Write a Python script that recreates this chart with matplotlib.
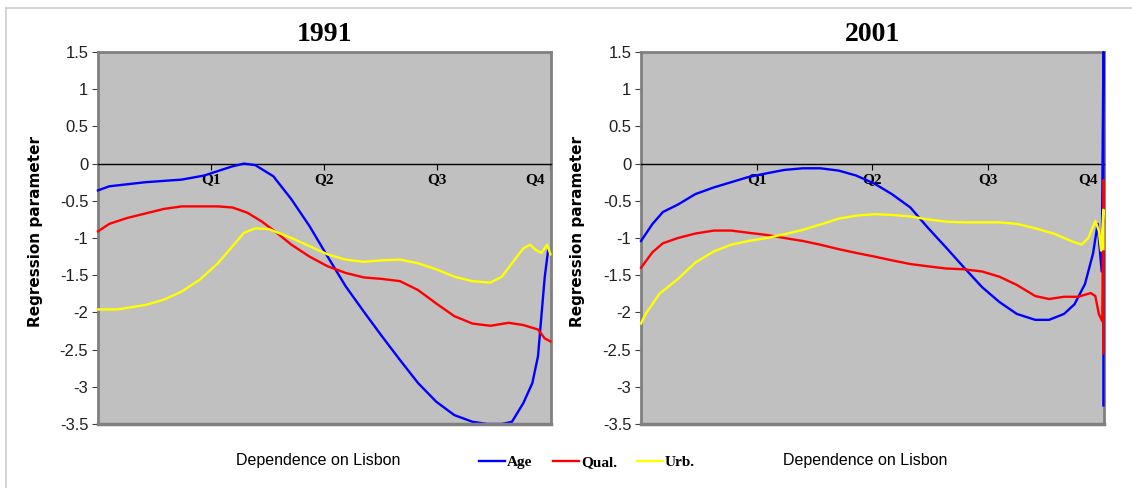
import matplotlib
matplotlib.use("Agg")
import matplotlib.pyplot as plt
import matplotlib.transforms as mtransforms
from matplotlib.lines import Line2D

# quartile positions along the "Dependence on Lisbon" axis (0 .. 4)
q_labels = ["Q1", "Q2", "Q3", "Q4"]
series_names = ["Age", "Qual.", "Urb."]
series_colors = ["#0000FF", "#FF0000", "#FFFF00"]

# ---- 1991 ----
x91_age = [0.0, 0.10, 0.42, 0.74, 0.94, 1.06, 1.19, 1.29, 1.39, 1.55, 1.71, 1.87, 2.03, 2.19,
           2.35, 2.51, 2.67, 2.83, 2.99, 3.15, 3.31, 3.44, 3.57, 3.66, 3.76, 3.84, 3.89, 3.92,
           3.95, 3.98]
y91_age = [-0.36, -0.305, -0.25, -0.215, -0.16, -0.10, -0.036, 0.0, -0.02, -0.17, -0.48, -0.84,
           -1.25, -1.65, -1.99, -2.32, -2.64, -2.95, -3.20, -3.38, -3.47, -3.5, -3.5, -3.47,
           -3.22, -2.95, -2.59, -2.05, -1.52, -1.16]

x91_qual = [0.0, 0.10, 0.26, 0.42, 0.58, 0.74, 0.90, 1.06, 1.19, 1.32, 1.45, 1.58, 1.71, 1.87,
            2.03, 2.19, 2.35, 2.51, 2.67, 2.83, 2.99, 3.15, 3.31, 3.47, 3.63, 3.76, 3.89, 3.95,
            4.0]
y91_qual = [-0.91, -0.81, -0.73, -0.67, -0.61, -0.575, -0.575, -0.575, -0.59, -0.66, -0.78,
            -0.93, -1.09, -1.25, -1.38, -1.47, -1.53, -1.55, -1.58, -1.70, -1.88, -2.05, -2.15,
            -2.18, -2.14, -2.17, -2.23, -2.35, -2.39]

x91_urb = [0.0, 0.17, 0.42, 0.58, 0.74, 0.90, 1.06, 1.19, 1.29, 1.39, 1.51, 1.71, 1.87, 2.03,
           2.19, 2.35, 2.51, 2.67, 2.83, 2.99, 3.15, 3.31, 3.47, 3.57, 3.66, 3.76, 3.82, 3.87,
           3.92, 3.97, 4.0]
y91_urb = [-1.96, -1.96, -1.90, -1.83, -1.72, -1.56, -1.34, -1.11, -0.93, -0.87, -0.88, -1.00,
           -1.11, -1.22, -1.29, -1.32, -1.30, -1.29, -1.34, -1.42, -1.52, -1.58, -1.60, -1.52,
           -1.34, -1.14, -1.09, -1.16, -1.20, -1.09, -1.22]

# ---- 2001 ----
x01_age = [0.0, 0.10, 0.19, 0.32, 0.47, 0.63, 0.78, 0.93, 1.09, 1.24, 1.40, 1.55, 1.71, 1.86,
           2.02, 2.17, 2.33, 2.48, 2.64, 2.79, 2.95, 3.10, 3.25, 3.41, 3.53, 3.66, 3.75, 3.84,
           3.91, 3.95, 3.985, 4.0, 4.0]
y01_age = [-1.04, -0.81, -0.65, -0.55, -0.41, -0.32, -0.25, -0.18, -0.13, -0.085, -0.063,
           -0.063, -0.094, -0.16, -0.27, -0.41, -0.59, -0.86, -1.13, -1.39, -1.66, -1.86, -2.02,
           -2.10, -2.10, -2.02, -1.89, -1.62, -1.21, -0.81, -1.45, 1.5, -3.25]

x01_qual = [0.0, 0.10, 0.19, 0.32, 0.47, 0.63, 0.78, 0.93, 1.09, 1.24, 1.40, 1.55, 1.71, 1.86,
            2.02, 2.17, 2.33, 2.48, 2.64, 2.79, 2.95, 3.10, 3.25, 3.41, 3.53, 3.66, 3.78, 3.89,
            3.93, 3.96, 3.99, 4.0, 4.0]
y01_qual = [-1.40, -1.19, -1.07, -1.00, -0.94, -0.90, -0.90, -0.93, -0.96, -1.00, -1.04, -1.09,
            -1.15, -1.20, -1.25, -1.30, -1.35, -1.38, -1.41, -1.42, -1.45, -1.52, -1.63, -1.78,
            -1.82, -1.79, -1.79, -1.74, -1.78, -2.02, -2.12, -0.22, -2.55]

x01_urb = [0.0, 0.04, 0.16, 0.32, 0.47, 0.63, 0.78, 0.93, 1.09, 1.24, 1.40, 1.55, 1.71, 1.86,
           2.02, 2.17, 2.33, 2.48, 2.64, 2.79, 2.95, 3.10, 3.25, 3.41, 3.57, 3.72, 3.81, 3.87,
           3.93, 3.96, 3.98, 4.0, 4.0]
y01_urb = [-2.15, -2.02, -1.75, -1.55, -1.33, -1.18, -1.09, -1.04, -1.00, -0.95, -0.89, -0.82,
           -0.74, -0.70, -0.68, -0.69, -0.71, -0.75, -0.78, -0.79, -0.79, -0.79, -0.81, -0.87,
           -0.94, -1.04, -1.09, -1.00, -0.77, -0.90, -1.17, -0.62, -1.15]

panels = [
    ("1991", [(x91_age, y91_age), (x91_qual, y91_qual), (x91_urb, y91_urb)]),
    ("2001", [(x01_age, y01_age), (x01_qual, y01_qual), (x01_urb, y01_urb)]),
]

sans = ["Liberation Sans", "DejaVu Sans"]
serif = ["Liberation Serif", "DejaVu Serif"]

W, H = 1132, 488
fig = plt.figure(figsize=(W / 100, H / 100), dpi=100)
fig.patch.set_facecolor("white")
# light frame (top and left edges visible in the original crop)
fig.add_artist(Line2D([6 / W, 1], [1 - 8 / H, 1 - 8 / H], transform=fig.transFigure,
                      color="#CCCCCC", linewidth=1.2))
fig.add_artist(Line2D([6 / W, 6 / W], [0, 1 - 8 / H], transform=fig.transFigure,
                      color="#CCCCCC", linewidth=1.2))

axes_rects = [[98 / W, 64 / H, 453 / W, 372 / H],
              [641 / W, 64 / H, 463 / W, 372 / H]]

lines = []
for rect, (title, data) in zip(axes_rects, panels):
    ax = fig.add_axes(rect)
    ax.set_facecolor("#C0C0C0")
    for (xs, ys), color, name in zip(data, series_colors, series_names):
        ln, = ax.plot(xs, ys, color=color, linewidth=1.7, label=name,
                      clip_on=False, zorder=4, solid_joinstyle="round")
        if title == "1991":
            lines.append(ln)
    ax.set_xlim(0, 4.005)
    ax.set_ylim(-3.5, 1.5)

    # category axis crosses at zero like the Excel original
    ax.spines["bottom"].set_position(("data", 0))
    ax.spines["bottom"].set_color("black")
    ax.spines["bottom"].set_linewidth(1)
    for side in ["left", "right", "top"]:
        ax.spines[side].set_color("#808080")
        ax.spines[side].set_linewidth(2)
    ax.axhline(-3.5, color="#808080", linewidth=2.5, clip_on=False, zorder=5)

    ax.set_yticks([1.5, 1, 0.5, 0, -0.5, -1, -1.5, -2, -2.5, -3, -3.5])
    ax.set_yticklabels(["%g" % v for v in ax.get_yticks()], family=sans, fontsize=12)
    ax.tick_params(axis="y", length=4, color="#404040", pad=3, labelcolor="#202020")

    ax.set_xticks([1, 2, 3, 4])
    ax.set_xticklabels(q_labels, family=serif, fontweight="bold", fontsize=11)
    ax.tick_params(axis="x", direction="out", length=4, pad=3, color="black")
    last = ax.get_xticklabels()[-1]
    last.set_ha("right")
    last.set_transform(last.get_transform() +
                       mtransforms.ScaledTranslation(-6 / 100, 0, fig.dpi_scale_trans))

    ax.set_title(title, family=serif, fontweight="bold", fontsize=20, pad=8)
    ax.set_ylabel("Regression parameter", family=["DejaVu Sans"], fontweight="bold",
                  fontsize=11)
    ax.yaxis.set_label_coords(-0.121, 0.517)
    ax.text(0.485, -0.097, "Dependence on Lisbon", transform=ax.transAxes,
            ha="center", va="center", family=sans, fontsize=11.5)

fig.legend(handles=lines, labels=series_names, loc="center", ncol=3,
           bbox_to_anchor=(587 / W, 1 - 462 / H), frameon=False,
           prop={"family": serif, "weight": "bold", "size": 11},
           handlelength=1.7, handletextpad=0.15, columnspacing=1.3)

fig.savefig("out.png", dpi=100)
